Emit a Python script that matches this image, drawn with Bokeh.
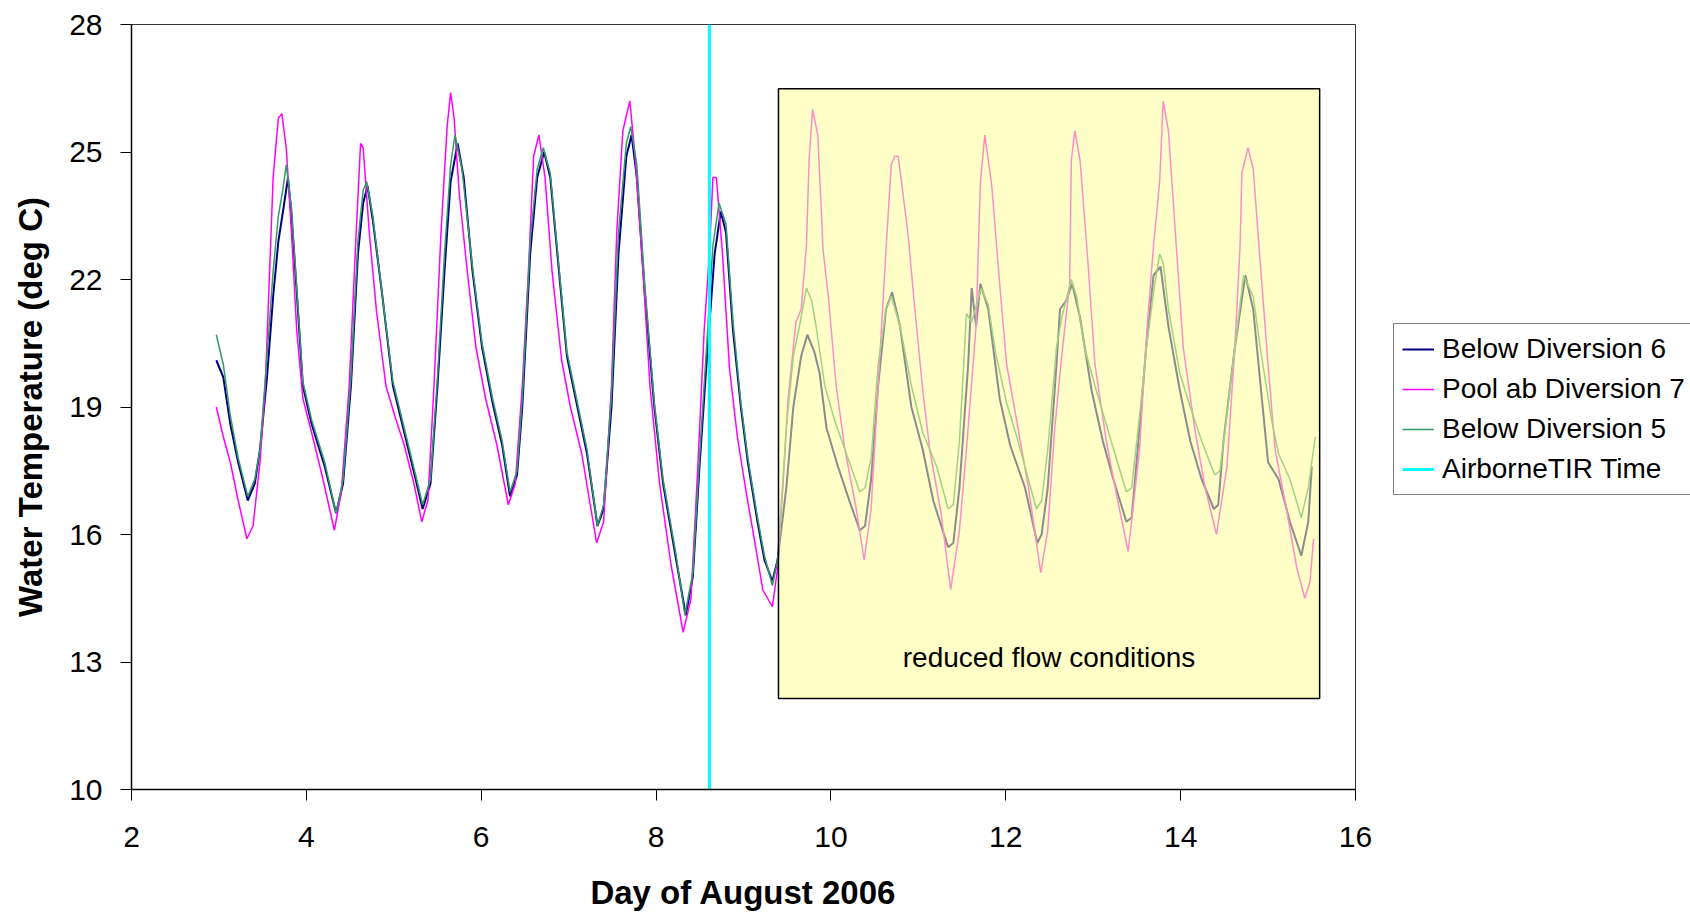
from bokeh.plotting import figure
from bokeh.layouts import row
from bokeh.models import Range1d, FixedTicker, Legend, LegendItem, Label
from bokeh.embed import file_html
from bokeh.resources import INLINE

# ---------------- data ----------------
x_ticks = [2, 4, 6, 8, 10, 12, 14, 16]
y_ticks = [10, 13, 16, 19, 22, 25, 28]

airborne_tir_day = 8.61
reduced_flow_start = 9.40
reduced_flow_end = 15.59

below6_x = [2.97, 3.05, 3.13, 3.22, 3.33, 3.41, 3.47, 3.55, 3.62, 3.68, 3.74, 3.79, 3.83, 3.89, 3.96,
            4.06, 4.21, 4.34, 4.42, 4.51, 4.59, 4.65, 4.70, 4.76, 4.87, 4.99,
            5.12, 5.25, 5.33, 5.42, 5.50, 5.58, 5.65, 5.73, 5.80, 5.90, 6.01,
            6.13, 6.24, 6.33, 6.41, 6.47, 6.56, 6.64, 6.72, 6.79, 6.88, 6.98,
            7.09, 7.21, 7.33, 7.40, 7.49, 7.57, 7.66, 7.72, 7.78, 7.87, 7.98,
            8.08, 8.23, 8.34, 8.42, 8.50, 8.59, 8.67, 8.74, 8.80, 8.88, 8.97, 9.05,
            9.16, 9.24, 9.33, 9.39, 9.49, 9.57, 9.66, 9.73, 9.81, 9.87, 9.95, 10.08,
            10.21, 10.33, 10.39, 10.46, 10.54, 10.63, 10.70, 10.79, 10.92, 11.05, 11.17,
            11.34, 11.40, 11.47, 11.57, 11.61, 11.66, 11.71, 11.80, 11.93, 12.05, 12.22,
            12.36, 12.41, 12.48, 12.58, 12.62, 12.69, 12.76, 12.85, 12.98, 13.11, 13.23,
            13.38, 13.44, 13.53, 13.61, 13.69, 13.77, 13.86, 13.99, 14.11, 14.24,
            14.38, 14.43, 14.49, 14.62, 14.74, 14.83, 14.91, 15.00, 15.12, 15.25, 15.38, 15.46, 15.50]
below6_y = [20.1, 19.7, 18.6, 17.7, 16.8, 17.2, 18.0, 19.7, 21.6, 22.9, 23.7, 24.4, 23.5, 21.7, 19.5,
            18.6, 17.6, 16.5, 17.2, 19.5, 22.6, 23.8, 24.2, 23.4, 21.6, 19.5,
            18.4, 17.3, 16.6, 17.2, 19.5, 22.2, 24.3, 25.2, 24.4, 22.2, 20.4,
            19.1, 18.1, 16.9, 17.4, 19.0, 22.6, 24.4, 25.0, 24.4, 22.4, 20.2,
            19.1, 17.9, 16.2, 16.6, 19.0, 22.6, 24.9, 25.4, 24.4, 21.7, 19.0,
            17.2, 15.4, 14.1, 15.0, 17.7, 20.4, 22.6, 23.6, 23.1, 20.8, 19.0, 17.7,
            16.3, 15.4, 14.9, 15.4, 17.1, 19.0, 20.2, 20.7, 20.3, 19.8, 18.5, 17.6,
            16.8, 16.1, 16.2, 17.3, 19.5, 21.3, 21.7, 20.9, 19.0, 18.0, 16.8,
            15.7, 15.8, 17.1, 20.0, 21.8, 20.9, 21.9, 21.3, 19.2, 18.1, 17.1,
            15.8, 16.0, 17.1, 20.0, 21.3, 21.5, 21.9, 21.1, 19.4, 18.2, 17.3,
            16.3, 16.4, 18.5, 20.5, 22.1, 22.3, 20.9, 19.4, 18.2, 17.3,
            16.6, 16.7, 18.2, 20.4, 22.1, 21.3, 19.6, 17.7, 17.3, 16.3, 15.5, 16.3, 17.6]

pool7_x = [2.97, 3.05, 3.13, 3.22, 3.32, 3.39, 3.47, 3.53, 3.58, 3.62, 3.68, 3.72, 3.77, 3.83, 3.89, 3.96,
           4.06, 4.19, 4.32, 4.40, 4.49, 4.57, 4.62, 4.65, 4.72, 4.80, 4.91, 5.01,
           5.12, 5.23, 5.32, 5.39, 5.46, 5.54, 5.61, 5.65, 5.69, 5.75, 5.84, 5.94,
           6.05, 6.18, 6.31, 6.39, 6.47, 6.54, 6.60, 6.66, 6.73, 6.81, 6.92, 7.02,
           7.15, 7.32, 7.40, 7.49, 7.55, 7.62, 7.70, 7.76, 7.85, 7.93, 8.04, 8.17,
           8.31, 8.40, 8.48, 8.55, 8.61, 8.65, 8.69, 8.76, 8.84, 8.93, 9.03, 9.14, 9.22, 9.33, 9.39,
           9.45, 9.51, 9.60, 9.66, 9.72, 9.75, 9.79, 9.85, 9.91, 9.97, 10.06, 10.16, 10.29, 10.38,
           10.46, 10.54, 10.63, 10.69, 10.73, 10.77, 10.88, 10.96, 11.05, 11.13, 11.26, 11.37,
           11.47, 11.55, 11.66, 11.71, 11.76, 11.84, 11.93, 12.01, 12.14, 12.26, 12.40,
           12.48, 12.56, 12.64, 12.73, 12.75, 12.79, 12.85, 12.94, 13.02, 13.15, 13.27, 13.40,
           13.53, 13.61, 13.69, 13.76, 13.80, 13.86, 13.95, 14.03, 14.16, 14.28, 14.41,
           14.53, 14.62, 14.68, 14.70, 14.77, 14.83, 14.91, 15.00, 15.08, 15.21, 15.33, 15.42, 15.48, 15.52]
pool7_y = [19.0, 18.3, 17.7, 16.8, 15.9, 16.2, 17.7, 19.5, 22.2, 24.4, 25.8, 25.9, 25.1, 23.1, 20.8, 19.2,
           18.4, 17.3, 16.1, 17.0, 19.5, 23.1, 25.2, 25.1, 23.1, 21.3, 19.5, 18.8,
           18.1, 17.2, 16.3, 16.8, 19.5, 23.1, 25.6, 26.4, 25.8, 24.0, 22.2, 20.4,
           19.2, 18.1, 16.7, 17.2, 19.5, 22.2, 24.9, 25.4, 24.4, 22.2, 20.1, 19.0,
           17.9, 15.8, 16.3, 19.5, 23.1, 25.5, 26.2, 24.9, 22.2, 19.5, 17.2, 15.3,
           13.7, 14.5, 17.7, 20.8, 22.6, 24.4, 24.4, 22.6, 19.9, 18.3, 17.0, 15.7, 14.7, 14.3, 15.2,
           17.1, 19.2, 21.0, 21.3, 22.8, 24.8, 26.0, 25.4, 22.7, 21.6, 19.5, 18.0, 16.6, 15.4,
           16.6, 19.5, 22.7, 24.7, 24.9, 24.9, 23.1, 21.3, 19.4, 18.0, 16.5, 14.7,
           16.1, 18.0, 20.9, 24.3, 25.4, 24.2, 21.9, 20.0, 18.5, 17.1, 15.1,
           16.1, 18.5, 20.2, 21.9, 24.8, 25.5, 24.8, 22.4, 20.0, 18.2, 16.9, 15.6,
           18.0, 20.7, 22.8, 24.3, 26.2, 25.5, 22.8, 20.4, 18.5, 17.1, 16.0,
           17.6, 20.4, 22.8, 24.5, 25.1, 24.6, 22.4, 20.0, 18.0, 16.6, 15.2, 14.5, 14.9, 15.9]

below5_x = [2.97, 3.05, 3.13, 3.22, 3.33, 3.41, 3.47, 3.55, 3.62, 3.68, 3.73, 3.77, 3.83, 3.89, 3.96,
            4.06, 4.21, 4.34, 4.42, 4.51, 4.59, 4.65, 4.69, 4.76, 4.87, 4.99,
            5.12, 5.25, 5.33, 5.42, 5.50, 5.58, 5.65, 5.70, 5.78, 5.90, 6.01,
            6.13, 6.24, 6.33, 6.41, 6.47, 6.56, 6.64, 6.71, 6.79, 6.88, 6.98,
            7.09, 7.21, 7.33, 7.40, 7.49, 7.57, 7.66, 7.71, 7.78, 7.87, 7.98,
            8.08, 8.23, 8.33, 8.42, 8.50, 8.59, 8.65, 8.72, 8.80, 8.88, 8.97, 9.05,
            9.16, 9.24, 9.33, 9.39, 9.49, 9.57, 9.64, 9.72, 9.78, 9.83, 9.93, 10.04, 10.16,
            10.33, 10.39, 10.46, 10.54, 10.63, 10.69, 10.79, 10.92, 11.05, 11.21,
            11.34, 11.40, 11.47, 11.55, 11.61, 11.72, 11.80, 11.89, 12.01, 12.14,
            12.35, 12.41, 12.48, 12.58, 12.64, 12.75, 12.81, 12.90, 13.02, 13.19,
            13.38, 13.44, 13.53, 13.61, 13.69, 13.76, 13.80, 13.86, 13.99, 14.11, 14.24,
            14.39, 14.45, 14.51, 14.62, 14.72, 14.83, 14.91, 15.04, 15.12, 15.25, 15.38, 15.46, 15.54]
below5_y = [20.7, 20.0, 18.8, 17.8, 16.9, 17.3, 18.0, 20.2, 22.2, 23.5, 24.1, 24.7, 23.7, 21.8, 19.6,
            18.7, 17.7, 16.5, 17.3, 19.7, 22.9, 24.1, 24.3, 23.5, 21.6, 19.6,
            18.5, 17.4, 16.7, 17.3, 19.7, 22.6, 24.7, 25.4, 24.6, 22.3, 20.5,
            19.2, 18.2, 17.0, 17.5, 19.2, 22.9, 24.6, 25.1, 24.5, 22.5, 20.3,
            19.2, 18.0, 16.2, 16.7, 19.3, 23.1, 25.2, 25.6, 24.7, 21.9, 19.1,
            17.3, 15.5, 14.1, 15.1, 17.9, 20.8, 22.8, 23.8, 23.3, 21.0, 19.1, 17.8,
            16.4, 15.5, 14.8, 15.4, 18.5, 20.2, 20.9, 21.8, 21.5, 20.9, 19.5, 18.7, 18.0,
            17.0, 17.1, 17.8, 20.0, 21.3, 21.6, 20.9, 19.5, 18.4, 17.6,
            16.6, 16.7, 18.2, 21.2, 21.0, 21.8, 21.4, 20.2, 19.1, 18.2,
            16.6, 16.8, 18.0, 20.4, 21.1, 22.0, 21.6, 20.4, 19.5, 18.3,
            17.0, 17.1, 18.8, 20.4, 21.7, 22.6, 22.4, 21.3, 19.8, 19.0, 18.2,
            17.4, 17.5, 18.5, 20.4, 22.1, 21.6, 20.4, 18.7, 17.9, 17.3, 16.4, 17.1, 18.3]

series_names = ["Below Diversion 6", "Pool ab Diversion 7", "Below Diversion 5", "AirborneTIR Time"]
series_colors = ["#000080", "#FF00FF", "#339966", "#00FFFF"]
series_widths = [2, 1.5, 1.5, 3]

assert len(below6_x) == len(below6_y)
assert len(pool7_x) == len(pool7_y)
assert len(below5_x) == len(below5_y)

series_xy = [(below6_x, below6_y), (pool7_x, pool7_y), (below5_x, below5_y),
             ([airborne_tir_day, airborne_tir_day], [y_ticks[0], y_ticks[-1]])]

# ---------------- main figure ----------------
FONT = "Liberation Sans"

fig = figure(width=1386, height=914, output_backend="svg", toolbar_location=None,
             x_range=Range1d(2, 16), y_range=Range1d(10, 28),
             min_border_left=131, min_border_top=24, min_border_right=31, min_border_bottom=125)
fig.background_fill_color = "white"
fig.border_fill_color = "white"
fig.outline_line_color = "#333333"
fig.outline_line_width = 1
fig.xgrid.visible = False
fig.ygrid.visible = False

fig.xaxis.ticker = FixedTicker(ticks=x_ticks)
fig.yaxis.ticker = FixedTicker(ticks=y_ticks)
for ax in (fig.xaxis, fig.yaxis):
    ax.axis_line_color = "black"
    ax.axis_line_width = 1.5
    ax.major_tick_line_color = "black"
    ax.major_tick_line_width = 1
    ax.major_tick_in = 0
    ax.major_tick_out = 11
    ax.minor_tick_line_color = None
    ax.major_label_text_font = FONT
    ax.major_label_text_font_size = "30px"
    ax.major_label_text_color = "black"
    ax.axis_label_text_font = FONT
    ax.axis_label_text_font_style = "bold"
    ax.axis_label_text_font_size = "33px"
    ax.axis_label_text_color = "black"

fig.xaxis.axis_label = "Day of August 2006"
fig.yaxis.axis_label = "Water Temperature (deg C)"
fig.xaxis.major_label_standoff = 26
fig.xaxis.axis_label_standoff = 24
fig.yaxis.major_label_standoff = 18
fig.yaxis.axis_label_standoff = 17

for (xs, ys), col, w in zip(series_xy, series_colors, series_widths):
    fig.line(xs, ys, line_color=col, line_width=w)

# semi-transparent reduced-flow box drawn over the series
fig.quad(left=[reduced_flow_start], right=[reduced_flow_end], bottom=[12.14], top=[26.49],
         fill_color="#FFFF99", fill_alpha=0.55, line_color="black", line_width=1.5)

fig.add_layout(Label(x=(reduced_flow_start + reduced_flow_end) / 2, y=13.1, text="reduced flow conditions",
                     text_font=FONT, text_font_size="28px", text_color="black",
                     text_align="center", text_baseline="middle"))

# ---------------- legend panel (separate canvas to the right) ----------------
# same series drawn here, but the ranges keep them out of view: only the legend shows
leg_fig = figure(width=304, height=914, output_backend="svg", toolbar_location=None,
                 x_range=Range1d(-10, -9), y_range=Range1d(-10, -9),
                 x_axis_location=None, y_axis_location=None,
                 min_border_left=0, min_border_right=0, min_border_top=0, min_border_bottom=0)
leg_fig.outline_line_color = None
leg_fig.xgrid.visible = False
leg_fig.ygrid.visible = False
leg_fig.background_fill_color = "white"
leg_fig.border_fill_color = "white"

items = []
for (xs, ys), name, col, w in zip(series_xy, series_names, series_colors, series_widths):
    rr = leg_fig.line(xs, ys, line_color=col, line_width=w)
    items.append(LegendItem(label=name, renderers=[rr]))

legend = Legend(items=items, location=(7, 294), orientation="vertical",
                label_text_font=FONT, label_text_font_size="28px", label_text_color="black",
                glyph_width=32, glyph_height=34, label_height=34, label_standoff=8,
                spacing=6, padding=8, margin=0,
                border_line_color="black", border_line_width=1,
                background_fill_color="white", background_fill_alpha=1)
leg_fig.add_layout(legend, "center")

p = row(fig, leg_fig, spacing=0)

open("out.html", "w").write(file_html(p, INLINE))
